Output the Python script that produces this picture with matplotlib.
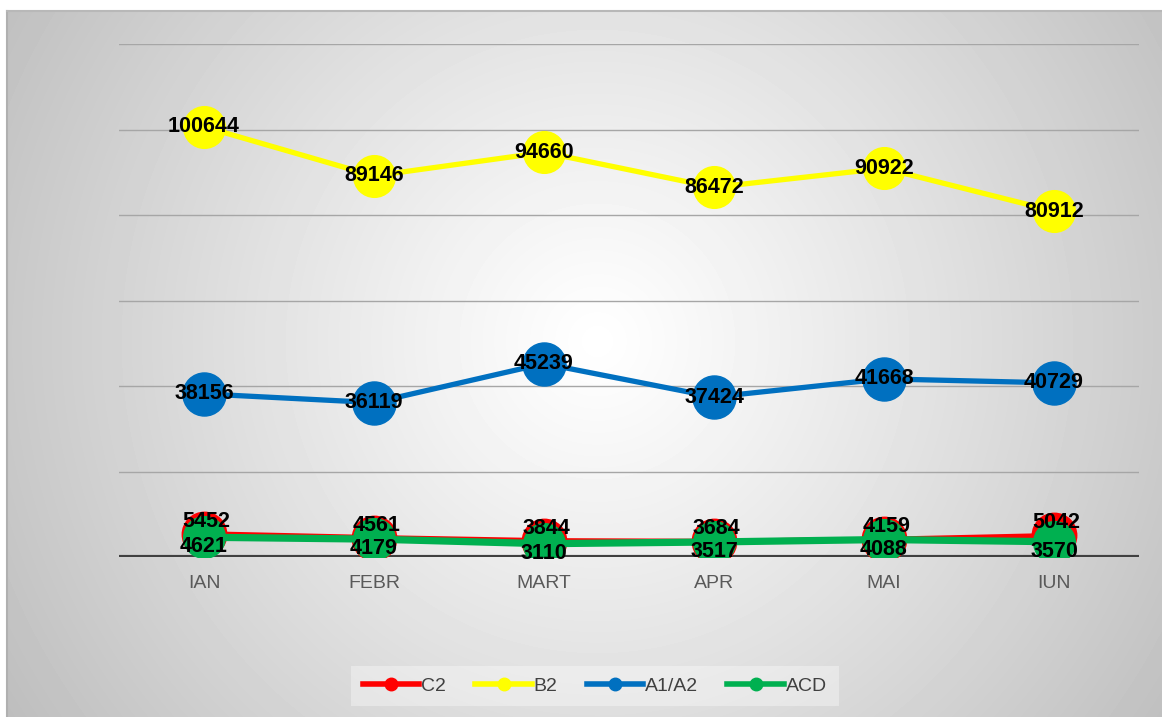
import matplotlib.pyplot as plt
import numpy as np

months = ["IAN", "FEBR", "MART", "APR", "MAI", "IUN"]
c2 = [5452, 4561, 3844, 3684, 4159, 5042]
b2 = [100644, 89146, 94660, 86472, 90922, 80912]
a1a2 = [38156, 36119, 45239, 37424, 41668, 40729]
acd = [4621, 4179, 3110, 3517, 4088, 3570]

W, H = 1162, 717
fig = plt.figure(figsize=(W / 100, H / 100), dpi=100)
fig.patch.set_facecolor("white")

# radial gradient panel
bg = fig.add_axes([7 / W, 0, 1 - 7 / W, 1 - 11 / H])
yy, xx = np.mgrid[0:H - 11, 0:W - 7]
cx, cy = 590, 330
r = np.hypot(xx - cx, yy - cy) / np.hypot(cx + 30, cy + 60)
shade = 1 - 0.27 * np.clip(r, 0, 1) ** 1.1
bg.imshow(shade, cmap="gray", vmin=0, vmax=1, aspect="auto",
          interpolation="bilinear")
bg.axis("off")
fig.add_artist(plt.Line2D([7 / W, 7 / W], [0, 1 - 11 / H], color="#b0b0b0", lw=1.5))
fig.add_artist(plt.Line2D([7 / W, 1], [1 - 11 / H, 1 - 11 / H], color="#b8b8b8", lw=1.5))

ax = fig.add_axes([119 / W, 160 / H, 1020 / W, 513 / H])
ax.patch.set_alpha(0)
x = np.arange(len(months))

series = [
    ("C2", c2, "#ff0000", 3.6, 32),
    ("B2", b2, "#ffff00", 3.8, 30),
    ("A1/A2", a1a2, "#0070c0", 3.8, 31),
    ("ACD", acd, "#00b050", 5.2, 30),
]

for y in range(20000, 120001, 20000):
    ax.axhline(y, color="#a6a6a6", lw=1, zorder=0)
ax.axhline(0, color="#404040", lw=3, zorder=1)

for name, vals, col, lw, ms in series:
    ax.plot(x, vals, color=col, lw=lw, marker="o", ms=ms, zorder=3)

lab = dict(fontsize=15.5, fontweight="bold", color="black",
           family="Liberation Sans", ha="center", va="center", zorder=5)
for i in x:
    ax.annotate(str(b2[i]), (i, b2[i]), **lab)
    ax.annotate(str(a1a2[i]), (i, a1a2[i]), **lab)
    ax.annotate(str(c2[i]), (i, c2[i]), xytext=(2, 9),
                textcoords="offset points", **lab)
    ax.annotate(str(acd[i]), (i, acd[i]), xytext=(0, -7),
                textcoords="offset points", **lab)

ax.set_xlim(-0.5, 5.5)
ax.set_ylim(0, 120000)
ax.set_yticks([])
ax.set_xticks(x)
ax.set_xticklabels(months, fontsize=14, color="#595959", family="Liberation Sans")
ax.tick_params(axis="x", length=0, pad=13)
for s in ax.spines.values():
    s.set_visible(False)

handles = [plt.Line2D([], [], color=c, lw=4, marker="o", ms=9)
           for _, _, c, _, _ in series]
leg = fig.legend(handles, [s[0] for s in series], loc="center",
                 bbox_to_anchor=(595 / W, 1 - 686 / H), ncol=4,
                 frameon=True, handlelength=2.9,
                 handletextpad=0.1, columnspacing=1.5,
                 prop={"family": "Liberation Sans", "size": 14})
leg.get_frame().set_facecolor("white")
leg.get_frame().set_alpha(0.35)
leg.get_frame().set_edgecolor("none")
leg.get_frame().set_boxstyle("square", pad=0.2)
for t in leg.get_texts():
    t.set_color("#404040")

fig.savefig("out.png", dpi=100)
